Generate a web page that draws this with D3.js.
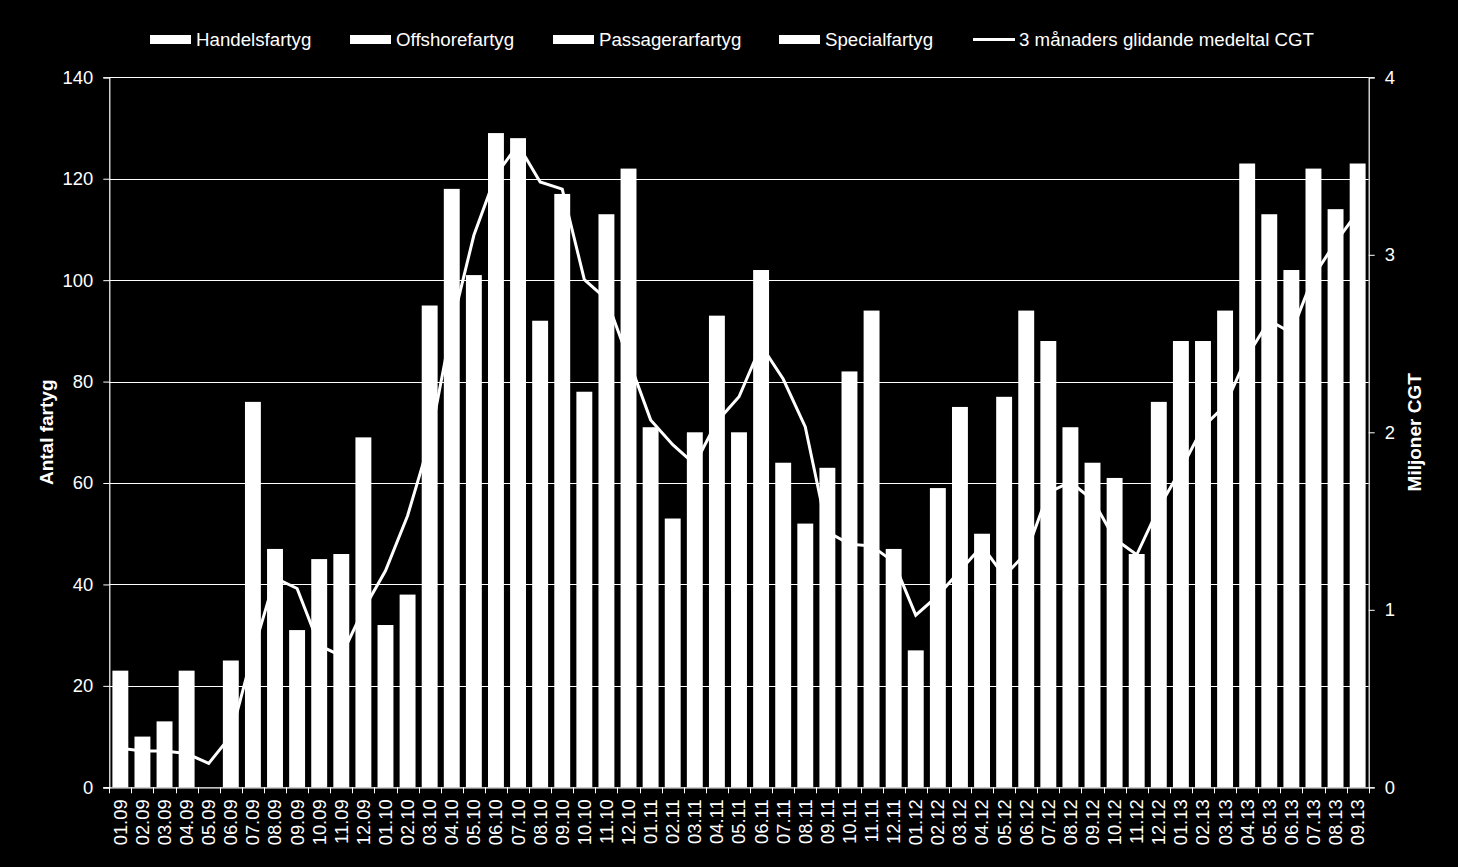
<!DOCTYPE html>
<html><head><meta charset="utf-8">
<script src="https://cdn.jsdelivr.net/npm/d3@7"></script>
<style>
html,body{margin:0;padding:0;background:#000;}
svg{display:block;font-family:"Liberation Sans",Arial,sans-serif;}
</style></head>
<body>
<svg id="chart" width="1458" height="867"></svg>
<script>
// ---- data ----
const categories = ["01.09","02.09","03.09","04.09","05.09","06.09","07.09","08.09","09.09","10.09","11.09","12.09",
"01.10","02.10","03.10","04.10","05.10","06.10","07.10","08.10","09.10","10.10","11.10","12.10",
"01.11","02.11","03.11","04.11","05.11","06.11","07.11","08.11","09.11","10.11","11.11","12.11",
"01.12","02.12","03.12","04.12","05.12","06.12","07.12","08.12","09.12","10.12","11.12","12.12",
"01.13","02.13","03.13","04.13","05.13","06.13","07.13","08.13","09.13"];
// stacked bars (Handels-, Offshore-, Passagerar-, Specialfartyg) are all white: total per month
const barTotals = [23,10,13,23,0,25,76,47,31,45,46,69,
32,38,95,118,101,129,128,92,117,78,113,122,
71,53,70,93,70,102,64,52,63,82,94,47,
27,59,75,50,77,94,88,71,64,61,46,76,
88,88,94,123,113,102,122,114,123];
// 3 månaders glidande medeltal CGT (miljoner)
const cgtAvg = [0.22,0.205,0.205,0.19,0.135,0.29,0.76,1.18,1.12,0.80,0.74,1.0,
1.22,1.53,1.95,2.60,3.11,3.45,3.62,3.41,3.37,2.86,2.75,2.41,
2.07,1.93,1.82,2.06,2.20,2.49,2.30,2.03,1.44,1.37,1.36,1.27,
0.97,1.08,1.22,1.36,1.19,1.32,1.66,1.72,1.62,1.40,1.31,1.575,
1.79,2.03,2.15,2.43,2.63,2.56,2.88,3.07,3.24];
const barSeries = ["Handelsfartyg","Offshorefartyg","Passagerarfartyg","Specialfartyg"];
const lineSeries = "3 månaders glidande medeltal CGT";
const leftTicks = [0,20,40,60,80,100,120,140];
const rightTicks = [0,1,2,3,4];
const leftTitle = "Antal fartyg";
const rightTitle = "Miljoner CGT";

// ---- layout ----
const L = 109.3, R = 1368.7, T = 77.3, B = 787.3;
const FS = 18.4;
const svg = d3.select("#chart");
svg.append("rect").attr("width",1458).attr("height",867).attr("fill","#000");

const xb = d3.scaleBand().domain(categories).range([L,R]).padding(0);
const step = xb.bandwidth();
const barW = step*0.72;
const y = d3.scaleLinear().domain([0,140]).range([B,T]);
const y2 = d3.scaleLinear().domain([0,4]).range([B,T]);

// gridlines
svg.append("g").selectAll("line").data(leftTicks.filter(d=>d>0)).join("line")
  .attr("x1",L).attr("x2",R).attr("y1",d=>Math.round(y(d))+0.5).attr("y2",d=>Math.round(y(d))+0.5)
  .attr("stroke","#fff").attr("stroke-width",1);

// bars
svg.append("g").selectAll("rect").data(categories).join("rect")
  .attr("x",(c)=>xb(c)+(step-barW)/2)
  .attr("width",barW)
  .attr("y",(c,i)=>y(barTotals[i]))
  .attr("height",(c,i)=>B-y(barTotals[i]))
  .attr("fill","#fff");

// line
const line = d3.line().x((d,i)=>xb(categories[i])+step/2).y(d=>y2(d));
svg.append("path").datum(cgtAvg).attr("d",line)
  .attr("fill","none").attr("stroke","#fff").attr("stroke-width",3).attr("stroke-linejoin","miter");

// left axis
const gl = svg.append("g").attr("transform",`translate(${L},0)`)
  .call(d3.axisLeft(y).tickValues(leftTicks).tickSize(6).tickPadding(10).tickFormat(d3.format("d")));
// right axis
const gr = svg.append("g").attr("transform",`translate(${R},0)`)
  .call(d3.axisRight(y2).tickValues(rightTicks).tickSize(6).tickPadding(10).tickFormat(d3.format("d")));
[gl,gr].forEach(g=>{
  g.select(".domain").attr("stroke","#fff").attr("stroke-width",1.2);
  g.selectAll(".tick line").attr("stroke","#fff");
  g.selectAll(".tick text").attr("fill","#fff").attr("font-size",FS).attr("font-family","Liberation Sans, Arial, sans-serif");
});

// bottom axis
const gb = svg.append("g");
gb.append("line").attr("x1",L-6).attr("x2",R).attr("y1",B+0.5).attr("y2",B+0.5).attr("stroke","#fff").attr("stroke-width",1.2);
const bounds = categories.map(c=>xb(c)).concat([R]);
gb.selectAll("line.tk").data(bounds).join("line").attr("class","tk")
  .attr("x1",d=>Math.round(d)+0.5).attr("x2",d=>Math.round(d)+0.5).attr("y1",B).attr("y2",B+6)
  .attr("stroke","#fff").attr("stroke-width",1);
gb.selectAll("text").data(categories).join("text")
  .attr("transform",c=>`translate(${xb(c)+step/2},${B+12}) rotate(-90)`)
  .attr("text-anchor","end").attr("dy","0.35em")
  .attr("fill","#fff").attr("font-size",FS).text(c=>c);

// axis titles
svg.append("text").attr("transform",`translate(53,${(T+B)/2}) rotate(-90)`)
  .attr("text-anchor","middle").attr("fill","#fff").attr("font-weight","bold").attr("font-size",19).text(leftTitle);
svg.append("text").attr("transform",`translate(1421,${(T+B)/2}) rotate(-90)`)
  .attr("text-anchor","middle").attr("fill","#fff").attr("font-weight","bold").attr("font-size",19).text(rightTitle);

// legend
const legX = [150,350,553,779,973];
const lg = svg.append("g");
barSeries.forEach((name,i)=>{
  lg.append("rect").attr("x",legX[i]).attr("y",35).attr("width",41).attr("height",9).attr("fill","#fff");
  lg.append("text").attr("x",legX[i]+46).attr("y",39).attr("dy","0.35em").attr("fill","#fff").attr("font-size",18.7).text(name);
});
lg.append("line").attr("x1",legX[4]).attr("x2",legX[4]+42).attr("y1",39.5).attr("y2",39.5).attr("stroke","#fff").attr("stroke-width",3);
lg.append("text").attr("x",legX[4]+46).attr("y",39).attr("dy","0.35em").attr("fill","#fff").attr("font-size",18.7).text(lineSeries);
</script>
</body></html>
